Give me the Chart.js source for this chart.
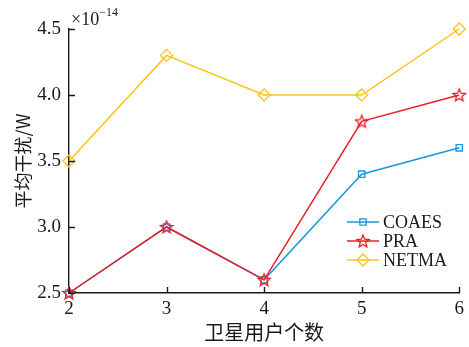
<!DOCTYPE html>
<html>
<head>
<meta charset="utf-8">
<script src="https://cdn.jsdelivr.net/npm/chart.js@4/dist/chart.umd.min.js"></script>
<style>
  html, body { margin: 0; padding: 0; background: #fff; }
  #wrap { width: 469px; height: 347px; }
</style>
</head>
<body>
<div id="wrap"><canvas id="interferenceChart" width="469" height="347"></canvas></div>
<script>
const userCounts = [2, 3, 4, 5, 6];
const coaesValues = [2.5, 3.0, 2.6, 3.4, 3.6];
const praValues = [2.5, 3.0, 2.6, 3.8, 4.0];
const netmaValues = [3.5, 4.3, 4.0, 4.0, 4.5];
const yTicks = [2.5, 3.0, 3.5, 4.0, 4.5];

const serif = '"Liberation Serif", "DejaVu Serif", serif';
const cjk = '"Noto Sans CJK SC", sans-serif';

const BLUE = '#1b98d8';
const RED = '#ec1c24';
const YELLOW = '#fcc316';
const INK = '#1a1a1a';

// hollow five-point star used as the PRA marker
function makeStar(color) {
    const c = document.createElement('canvas');
    c.width = 16; c.height = 16;
    const g = c.getContext('2d');
    g.strokeStyle = color;
    g.lineWidth = 1.3;
    g.beginPath();
    for (let i = 0; i < 10; i++) {
        const r = i % 2 === 0 ? 6.5 : 2.9;
        const a = -Math.PI / 2 + i * Math.PI / 5;
        const x = 8 + r * Math.cos(a), y = 8.5 + r * Math.sin(a);
        i === 0 ? g.moveTo(x, y) : g.lineTo(x, y);
    }
    g.closePath();
    g.stroke();
    return c;
}
const starMarker = makeStar(RED);

function toPoints(vals) {
    return userCounts.map((x, i) => ({ x: x, y: vals[i] }));
}

const seriesList = [
    { label: 'COAES', data: coaesValues, color: BLUE, style: 'rect', radius: 4.5, order: 3 },
    { label: 'PRA', data: praValues, color: RED, style: starMarker, radius: 7, order: 2 },
    { label: 'NETMA', data: netmaValues, color: YELLOW, style: 'rectRot', radius: 6, order: 1 }
];

// inward tick marks, exponent note and in-plot legend
const decorations = {
    id: 'decorations',
    afterDraw(chart) {
        const ctx = chart.ctx;
        const xs = chart.scales.x, ys = chart.scales.y;
        const area = chart.chartArea;
        ctx.save();
        ctx.strokeStyle = INK;
        ctx.lineWidth = 1.4;
        ctx.beginPath();
        userCounts.forEach(v => {
            const px = Math.round(xs.getPixelForValue(v)) + 0.5;
            ctx.moveTo(px, area.bottom);
            ctx.lineTo(px, area.bottom - 6);
        });
        yTicks.forEach(v => {
            const py = Math.round(ys.getPixelForValue(v)) + 0.5;
            ctx.moveTo(area.left, py);
            ctx.lineTo(area.left + 6, py);
        });
        ctx.stroke();

        ctx.fillStyle = INK;
        ctx.textBaseline = 'alphabetic';
        ctx.textAlign = 'left';
        ctx.font = '18px ' + serif;
        ctx.fillText('\u00d710', area.left + 2, area.top - 4);
        const w = ctx.measureText('\u00d710').width;
        ctx.font = '12px ' + serif;
        ctx.fillText('\u221214', area.left + 2 + w, area.top - 13);

        // legend rows
        const lx = 347, ly = 222, gap = 19;
        chart.data.datasets.forEach((ds, i) => {
            const y = ly + i * gap;
            ctx.strokeStyle = ds.borderColor;
            ctx.fillStyle = 'rgba(0,0,0,0)';
            ctx.lineWidth = 1.5;
            ctx.beginPath();
            ctx.moveTo(lx, y);
            ctx.lineTo(lx + 32, y);
            ctx.stroke();
            ctx.lineWidth = 1.3;
            Chart.helpers.drawPoint(ctx, {
                pointStyle: ds.pointStyle,
                radius: ds.pointRadius,
                borderWidth: 1.3,
                rotation: 0
            }, lx + 16, y);
            ctx.fillStyle = INK;
            ctx.font = '18px ' + serif;
            ctx.textBaseline = 'middle';
            ctx.fillText(ds.label, lx + 36, y + 1);
        });
        ctx.restore();
    }
};

new Chart(document.getElementById('interferenceChart').getContext('2d'), {
    type: 'line',
    data: {
        datasets: seriesList.map(s => ({
            label: s.label,
            data: toPoints(s.data),
            borderColor: s.color,
            backgroundColor: 'rgba(0,0,0,0)',
            borderWidth: 1.5,
            pointStyle: s.style,
            pointRadius: s.radius,
            pointBorderWidth: 1.3,
            pointBorderColor: s.color,
            pointBackgroundColor: 'rgba(0,0,0,0)',
            fill: false,
            tension: 0,
            clip: false,
            order: s.order
        }))
    },
    options: {
        responsive: false,
        animation: false,
        layout: { padding: { top: 29, right: 8, left: 0, bottom: 0 } },
        plugins: {
            legend: { display: false },
            tooltip: { enabled: false }
        },
        scales: {
            x: {
                type: 'linear',
                min: 2,
                max: 6,
                afterBuildTicks: axis => { axis.ticks = userCounts.map(v => ({ value: v })); },
                grid: { display: false, drawTicks: false },
                border: { display: true, color: INK, width: 1.4 },
                ticks: {
                    color: INK,
                    padding: 5,
                    font: { family: serif, size: 19 },
                    maxRotation: 0,
                    callback: v => String(v)
                },
                title: {
                    display: true,
                    text: '卫星用户个数',
                    color: INK,
                    font: { family: cjk, size: 20 },
                    padding: { top: 0, bottom: 3 }
                },
                afterFit: axis => { axis.height = 54; }
            },
            y: {
                type: 'linear',
                min: 2.5,
                max: 4.5,
                afterBuildTicks: axis => { axis.ticks = yTicks.map(v => ({ value: v })); },
                grid: { display: false, drawTicks: false },
                border: { display: true, color: INK, width: 1.4 },
                ticks: {
                    color: INK,
                    padding: 8,
                    font: { family: serif, size: 19 },
                    callback: v => v.toFixed(1)
                },
                title: {
                    display: true,
                    text: '平均干扰/W',
                    color: INK,
                    font: { family: cjk, size: 18 },
                    padding: { top: 12, bottom: 4 }
                },
                afterFit: axis => { axis.width = 69; }
            }
        }
    },
    plugins: [decorations]
});
</script>
</body>
</html>
